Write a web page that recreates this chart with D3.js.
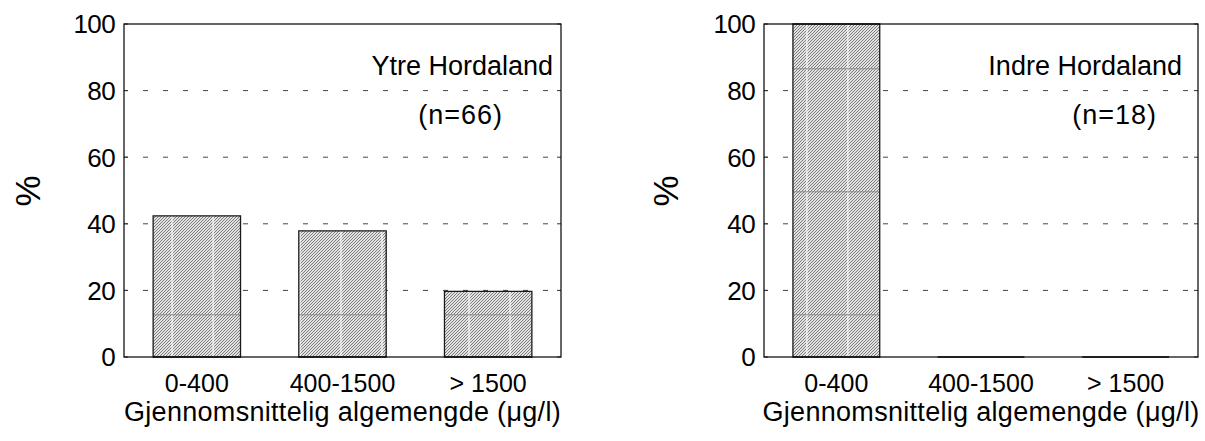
<!DOCTYPE html>
<html>
<head>
<meta charset="utf-8">
<script src="https://cdn.jsdelivr.net/npm/d3@7"></script>
<style>
  body { margin: 0; background: #fff; }
  text { font-family: "Liberation Sans", Arial, Helvetica, sans-serif; fill: #000; }
</style>
</head>
<body>
<div id="chart"></div>
<script>
// Categories and values (percent of stations)
const categories = ["0-400", "400-1500", "> 1500"];
const ytreValues = [42.4, 37.9, 19.7];
const indreValues = [100, 0, 0];
const yTicks = [0, 20, 40, 60, 80, 100];
const panelTitles = ["Ytre Hordaland", "Indre Hordaland"];
const panelCounts = ["(n=66)", "(n=18)"];
const xTitle = "Gjennomsnittelig algemengde (\u03bcg/l)";
const yTitle = "%";

const W = 1205, H = 441;

const svg = d3.select("#chart").append("svg")
    .attr("width", W)
    .attr("height", H);

const defs = svg.append("defs");

// fine diagonal hatch used for the bars
const hatch = defs.append("pattern")
    .attr("id", "hatch")
    .attr("patternUnits", "userSpaceOnUse")
    .attr("width", 3)
    .attr("height", 3);
hatch.append("rect").attr("width", 3).attr("height", 3).attr("fill", "#e2e2e2");
hatch.append("path")
    .attr("d", "M-1,1 l2,-2 M0,3 l3,-3 M2,4 l2,-2")
    .attr("stroke", "#7c7c7c")
    .attr("stroke-width", 1);

// panel layout
const panels = [
    {x0: 124, x1: 561, values: ytreValues, gridOffsets: [18.4, 0.6, 24],
     titleX: 553, countX: 503, pctX: 28},
    {x0: 764, x1: 1198, values: indreValues, gridOffsets: [13.4, 0, 0],
     titleX: 1182, countX: 1157, pctX: 666}
];
const plotTop = 24, plotBottom = 357;

const y = d3.scaleLinear().domain([0, 100]).range([plotBottom, plotTop]);

panels.forEach(function(p, pi) {
    const g = svg.append("g");

    const x = d3.scaleBand()
        .domain(categories)
        .range([p.x0, p.x1])
        .paddingInner(0.4)
        .paddingOuter(0.2);

    // dashed grid lines
    g.selectAll(".grid")
        .data(yTicks.filter(d => d > 0 && d < 100))
        .enter().append("line")
        .attr("x1", p.x0)
        .attr("x2", p.x1)
        .attr("y1", d => y(d))
        .attr("y2", d => y(d))
        .attr("stroke", "#444")
        .attr("stroke-width", 1)
        .attr("stroke-dasharray", "5,15")
        .attr("stroke-dashoffset", 1);

    // small inward ticks on both sides
    g.selectAll(".tickL")
        .data(yTicks)
        .enter().append("line")
        .attr("x1", p.x0).attr("x2", p.x0 + 4)
        .attr("y1", d => y(d)).attr("y2", d => y(d))
        .attr("stroke", "#333");
    g.selectAll(".tickR")
        .data(yTicks)
        .enter().append("line")
        .attr("x1", p.x1).attr("x2", p.x1 - 4)
        .attr("y1", d => y(d)).attr("y2", d => y(d))
        .attr("stroke", "#333");

    // bars
    p.values.forEach(function(v, i) {
        const bx = x(categories[i]);
        const bw = x.bandwidth();
        const pid = "grid" + pi + "_" + i;
        const gp = defs.append("pattern")
            .attr("id", pid)
            .attr("patternUnits", "userSpaceOnUse")
            .attr("x", bx + p.gridOffsets[i])
            .attr("y", 68.3)
            .attr("width", 41)
            .attr("height", 123);
        gp.append("line").attr("x1", 0.5).attr("x2", 0.5).attr("y1", 0).attr("y2", 123)
            .attr("stroke", "#fff").attr("stroke-width", 1.3);
        gp.append("line").attr("x1", 0).attr("x2", 41).attr("y1", 0.5).attr("y2", 0.5)
            .attr("stroke", "#8a8a8a").attr("stroke-width", 1);

        const path = `M${bx},${y(0)}V${y(v)}H${bx + bw}V${y(0)}Z`;
        if (v > 0) {
            g.append("path").attr("d", path).attr("fill", "url(#hatch)");
            g.append("path").attr("d", path).attr("fill", `url(#${pid})`);
        }
        g.append("path")
            .attr("d", path)
            .attr("fill", "none")
            .attr("stroke", "#1a1a1a")
            .attr("stroke-width", 1.3);
    });

    // frame
    g.append("rect")
        .attr("x", p.x0)
        .attr("y", plotTop)
        .attr("width", p.x1 - p.x0)
        .attr("height", plotBottom - plotTop)
        .attr("fill", "none")
        .attr("stroke", "#000")
        .attr("stroke-width", 1.2);

    // y tick labels
    g.selectAll(".ylab")
        .data(yTicks)
        .enter().append("text")
        .attr("x", p.x0 - 9)
        .attr("y", d => y(d))
        .attr("dy", "0.36em")
        .attr("text-anchor", "end")
        .style("font-size", "26px")
        .style("letter-spacing", "-0.6px")
        .text(d => d);

    // x category labels
    g.selectAll(".xlab")
        .data(categories)
        .enter().append("text")
        .attr("x", d => x(d) + x.bandwidth() / 2)
        .attr("y", 392)
        .attr("text-anchor", "middle")
        .style("font-size", "25px")
        .text(d => d);

    // x axis title
    g.append("text")
        .attr("x", (p.x0 + p.x1) / 2)
        .attr("y", 421)
        .attr("text-anchor", "middle")
        .style("font-size", "27px")
        .style("letter-spacing", "0.3px")
        .text(xTitle);

    // y axis title
    g.append("text")
        .attr("transform", `translate(${p.pctX},191) rotate(-90)`)
        .attr("text-anchor", "middle")
        .attr("dy", "0.35em")
        .style("font-size", "35px")
        .text(yTitle);

    // panel annotations
    g.append("text")
        .attr("x", p.titleX)
        .attr("y", 75)
        .attr("text-anchor", "end")
        .style("font-size", "27px")
        .text(panelTitles[pi]);

    g.append("text")
        .attr("x", p.countX)
        .attr("y", 124)
        .attr("text-anchor", "end")
        .style("font-size", "27px")
        .style("letter-spacing", "1px")
        .text(panelCounts[pi]);
});
</script>
</body>
</html>
